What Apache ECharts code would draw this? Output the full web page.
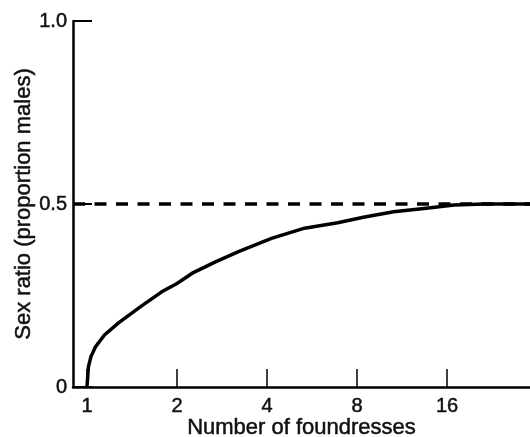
<!DOCTYPE html>
<html>
<head>
<meta charset="utf-8">
<script src="https://cdn.jsdelivr.net/npm/echarts@6/dist/echarts.min.js"></script>
<style>
  html, body { margin: 0; padding: 0; background: #fff; }
  #chart { width: 530px; height: 437px; }
</style>
</head>
<body>
<div id="chart"></div>
<script>
// foundresses (log2 axis) vs. proportion of males
const foundresses = [1, 1.011, 1.031, 1.068, 1.144, 1.278, 1.507, 1.778, 2, 2.25, 2.69, 3.21, 4.14, 5.34, 6.89, 8.4, 10.6, 13.4, 16.9, 21.4, 30.3]
const sexRatio = [0, 0.055, 0.083, 0.11, 0.142, 0.176, 0.219, 0.26, 0.283, 0.311, 0.342, 0.37, 0.406, 0.434, 0.449, 0.464, 0.479, 0.488, 0.497, 0.5, 0.5]
const xTicks = [1, 2, 4, 8, 16]
const yTicks = [0, 0.5, 1]
const refLine = 0.5

const font = 'Liberation Sans, Arial, sans-serif'
let myChart = echarts.init(document.getElementById('chart'))

let points = foundresses.map((n, i) => [n, sexRatio[i]])

// slightly heavier text, like the printed figure
let txt = size => ({
  color: '#111', fontSize: size, fontFamily: font,
  textBorderColor: '#111', textBorderWidth: 0.5
})

let options = {
  animation: false,
  grid: { left: 73, right: 0, top: 21, bottom: 50, outerBoundsMode: 'none', containLabel: false },
  xAxis: {
    type: 'log',
    logBase: 2,
    min: 0.898,
    max: 30.3,
    name: 'Number of foundresses',
    nameLocation: 'middle',
    nameGap: 30,
    nameMoveOverlap: false,
    nameTextStyle: txt(22),
    axisLine: { lineStyle: { color: '#000', width: 2.5 } },
    axisTick: { inside: true, length: 18, customValues: xTicks, lineStyle: { color: '#000', width: 1.5 } },
    axisLabel: Object.assign(txt(20), { customValues: xTicks, margin: 9 }),
    splitLine: { show: false }
  },
  yAxis: {
    type: 'value',
    min: 0,
    max: 1,
    name: 'Sex ratio (proportion males)',
    nameLocation: 'middle',
    nameGap: 38,
    nameMoveOverlap: false,
    nameRotate: 90,
    nameTextStyle: txt(22),
    axisLine: { show: true, lineStyle: { color: '#000', width: 2.5 } },
    axisTick: { show: true, inside: true, length: 19, customValues: yTicks, lineStyle: { color: '#000', width: 2 } },
    axisLabel: Object.assign(txt(20), {
      customValues: yTicks,
      margin: 6,
      formatter: v => v === 0 ? '0' : v.toFixed(1)
    }),
    splitLine: { show: false }
  },
  series: [
    {
      type: 'line',
      data: points,
      smooth: false,
      showSymbol: false,
      lineStyle: { color: '#000', width: 3.5, join: 'round' },
      markLine: {
        silent: true,
        symbol: 'none',
        label: { show: false },
        lineStyle: { color: '#000', width: 3.5, type: [12, 9.5] },
        data: [{ yAxis: refLine }]
      }
    }
  ]
}
myChart.setOption(options)
</script>
</body>
</html>
